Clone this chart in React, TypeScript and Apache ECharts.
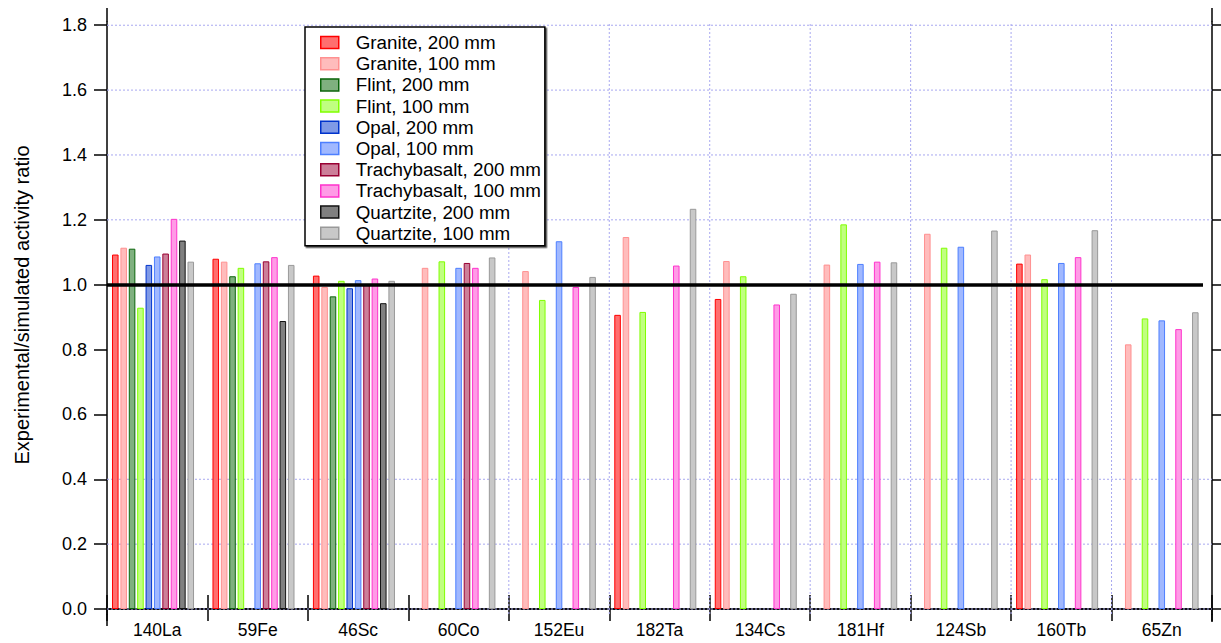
import React, { useEffect, useRef } from "react";
import * as echarts from "echarts";

const categories = ["140La", "59Fe", "46Sc", "60Co", "152Eu", "182Ta", "134Cs", "181Hf", "124Sb", "160Tb", "65Zn"];

const granite200 = [1.093, 1.080, 1.028, null, null, 0.907, 0.956, null, null, 1.065, null];
const granite100 = [1.114, 1.071, 0.993, 1.052, 1.042, 1.147, 1.073, 1.062, 1.157, 1.093, 0.816];
const flint200 = [1.111, 1.026, 0.964, null, null, null, null, null, null, null, null];
const flint100 = [0.929, 1.052, 1.012, 1.072, 0.953, 0.916, 1.026, 1.186, 1.114, 1.017, 0.896];
const opal200 = [1.061, null, 0.989, null, null, null, null, null, null, null, null];
const opal100 = [1.087, 1.066, 1.014, 1.052, 1.134, null, null, 1.064, 1.117, 1.067, 0.890];
const trachy200 = [1.096, 1.072, 1.0, 1.067, null, null, null, null, null, null, null];
const trachy100 = [1.203, 1.085, 1.019, 1.052, 0.993, 1.059, 0.939, 1.071, null, 1.085, 0.863];
const quartz200 = [1.136, 0.888, 0.943, null, null, null, null, null, null, null, null];
const quartz100 = [1.071, 1.061, 1.012, 1.084, 1.024, 1.234, 0.972, 1.069, 1.167, 1.168, 0.915];

const seriesNames = [
  "Granite, 200 mm",
  "Granite, 100 mm",
  "Flint, 200 mm",
  "Flint, 100 mm",
  "Opal, 200 mm",
  "Opal, 100 mm",
  "Trachybasalt, 200 mm",
  "Trachybasalt, 100 mm",
  "Quartzite, 200 mm",
  "Quartzite, 100 mm",
];
const seriesData = [granite200, granite100, flint200, flint100, opal200, opal100, trachy200, trachy100, quartz200, quartz100];
const fills = ["#ff6f6f", "#ffbcbc", "#7fb07f", "#c0ff80", "#7f99e6", "#a0b8ff", "#cc7f99", "#ff9be6", "#808080", "#c8c8c8"];
const borders = ["#ff0000", "#ff9090", "#0a640a", "#80ff00", "#0033cc", "#4d7fff", "#990033", "#ff33cc", "#111111", "#999999"];

const yTicks = [0, 0.2, 0.4, 0.6, 0.8, 1.0, 1.2, 1.4, 1.6, 1.8];
const yGridValues = [0, 0.2, 0.4, 1.2, 1.4, 1.6, 1.8];
const xGridBoundaries = [4, 5, 6, 7, 8, 9, 10];
const yMin = -0.0154;
const yMax = 1.81;
const refValue = 1.0;
const yTitle = "Experimental/simulated activity ratio";

const FONT = "Liberation Sans, Arial, sans-serif";
const GRID_C = "#a8a8f0";

export default function App() {
  const ref = useRef<HTMLDivElement>(null);
  useEffect(() => {
    if (!ref.current) return;
    const chart = echarts.init(ref.current, null, { renderer: "svg" });
    const series: any[] = seriesNames.map((name, i) => ({
      name,
      type: "bar",
      data: seriesData[i],
      barGap: "28%",
      barCategoryGap: "10%",
      itemStyle: { color: fills[i], borderColor: borders[i], borderWidth: 1 },
      xAxisIndex: 0,
      yAxisIndex: 0,
      z: 3,
    }));
    series.push({
      name: "_pad",
      type: "bar",
      data: categories.map(() => null),
      barGap: "28%",
      barCategoryGap: "10%",
      itemStyle: { color: "transparent" },
      z: 3,
    });
    const gridStyle = { stroke: GRID_C, lineWidth: 1, lineDash: [2, 2], fill: null };
    series.push({
      name: "_hgrid",
      type: "custom",
      xAxisIndex: 2,
      yAxisIndex: 0,
      silent: true,
      z: 1,
      data: yGridValues.map((v) => [0, v]),
      renderItem: (_p: any, api: any) => {
        const v = api.value(1);
        const a = api.coord([0, v]);
        const b = api.coord([categories.length, v]);
        return { type: "line", shape: { x1: a[0], y1: a[1], x2: b[0], y2: b[1] }, style: gridStyle };
      },
    });
    series.push({
      name: "_vgrid",
      type: "custom",
      xAxisIndex: 2,
      yAxisIndex: 0,
      silent: true,
      z: 1,
      data: xGridBoundaries.map((b) => [b, 0]),
      renderItem: (_p: any, api: any) => {
        const x = api.value(0);
        const a = api.coord([x, yMin]);
        const b = api.coord([x, yMax]);
        return { type: "line", shape: { x1: a[0], y1: a[1], x2: b[0], y2: b[1] }, style: gridStyle };
      },
    });
    series[0].markLine = {
      silent: true,
      symbol: "none",
      z: 6,
      label: { show: false },
      lineStyle: { color: "#000", width: 3.5, type: "solid" },
      data: [[{ x: 107, yAxis: refValue }, { x: 1203, yAxis: refValue }]],
    };
    const axisLineStyle = { color: "#000", width: 1.5 };
    chart.setOption({
      animation: false,
      backgroundColor: "#fff",
      textStyle: { fontFamily: FONT },
      grid: { left: 107, right: 9, top: 22, bottom: 29, containLabel: false },
      legend: {
        data: seriesNames,
        orient: "vertical",
        left: 305,
        top: 27,
        icon: "rect",
        itemWidth: 18,
        itemHeight: 12,
        itemGap: 2.2,
        padding: [6, 4, 3, 15],
        borderColor: "#000",
        borderWidth: 1.5,
        backgroundColor: "#fff",
        shadowColor: "rgba(0,0,0,0.7)",
        shadowOffsetX: 1.5,
        shadowOffsetY: 1.5,
        shadowBlur: 0,
        selectedMode: false,
        itemStyle: { borderWidth: 1.5 },
        textStyle: { fontFamily: FONT, fontSize: 18.8, color: "#000", lineHeight: 19, padding: [0, 0, 0, 12] },
      },
      xAxis: [
        {
          type: "category",
          data: categories,
          position: "bottom",
          axisLine: { show: true, lineStyle: axisLineStyle },
          axisTick: { show: true, length: 12, interval: 0, lineStyle: axisLineStyle },
          axisLabel: { interval: 0, fontSize: 17.5, color: "#000", margin: 7, fontFamily: FONT },
          splitLine: { show: false },
          splitArea: { show: false },
        },
        {
          type: "category",
          data: categories,
          position: "top",
          axisLine: { show: true, lineStyle: axisLineStyle },
          axisTick: { show: true, length: 14, interval: 0, lineStyle: axisLineStyle },
          axisLabel: { show: false },
          splitLine: { show: false },
          splitArea: { show: false },
        },
        {
          type: "value",
          min: 0,
          max: categories.length,
          show: false,
          splitLine: { show: false },
        },
      ],
      yAxis: [
        {
          type: "value",
          min: yMin,
          max: yMax,
          position: "left",
          axisLine: { show: true, lineStyle: axisLineStyle },
          axisTick: { show: true, length: 13, customValues: yTicks, lineStyle: axisLineStyle },
          axisLabel: {
            customValues: yTicks,
            fontSize: 18,
            color: "#000",
            margin: 20,
            fontFamily: FONT,
            formatter: (v: number) => v.toFixed(1),
          },
          splitLine: { show: false },
          splitArea: { show: false },
        },
        {
          type: "value",
          min: yMin,
          max: yMax,
          position: "right",
          axisLine: { show: true, lineStyle: axisLineStyle },
          axisTick: { show: true, length: 10, customValues: yTicks, lineStyle: axisLineStyle },
          axisLabel: { show: false },
          splitLine: { show: false },
          splitArea: { show: false },
        },
      ],
      graphic: [
        {
          type: "text",
          x: 22,
          y: 305,
          rotation: Math.PI / 2,
          style: {
            text: yTitle,
            fontSize: 20,
            fontFamily: FONT,
            fill: "#000",
            align: "center",
            verticalAlign: "middle",
          },
        },
        { type: "line", shape: { x1: 107, y1: 8, x2: 107, y2: 22 }, style: { stroke: "#000", lineWidth: 1.5 } },
        { type: "line", shape: { x1: 107, y1: 614, x2: 107, y2: 626 }, style: { stroke: "#000", lineWidth: 1.5 } },
        { type: "line", shape: { x1: 1212, y1: 8, x2: 1212, y2: 22 }, style: { stroke: "#000", lineWidth: 1.5 } },
        { type: "line", shape: { x1: 1212, y1: 614, x2: 1212, y2: 622 }, style: { stroke: "#000", lineWidth: 1.5 } },
      ],
      series,
    });
    return () => chart.dispose();
  }, []);
  return <div ref={ref} style={{ position: "fixed", left: 0, top: 0, width: 1221, height: 643 }} />;
}
